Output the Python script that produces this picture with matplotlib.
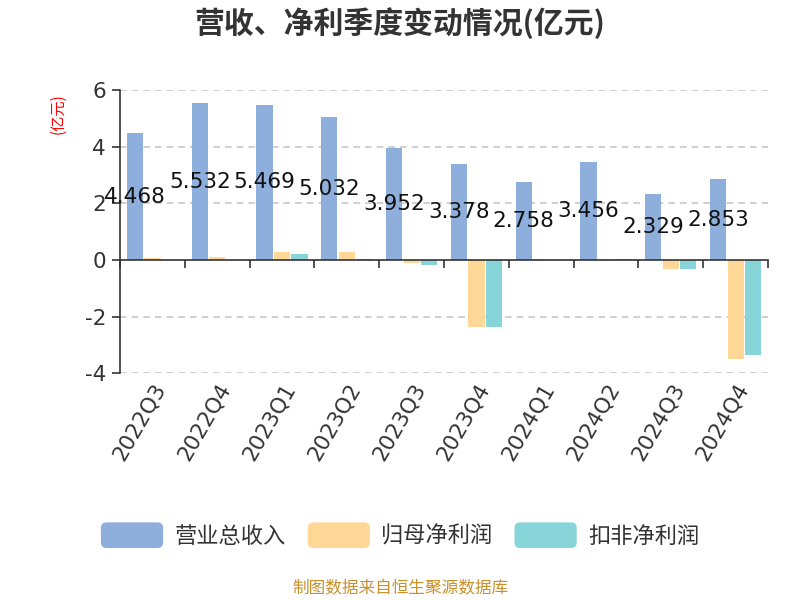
import matplotlib
matplotlib.use("Agg")
import matplotlib.pyplot as plt
from matplotlib.patches import FancyBboxPatch
from matplotlib.legend_handler import HandlerPatch
import numpy as np

plt.rcParams['font.family'] = ['Noto Sans CJK SC', 'DejaVu Sans']
plt.rcParams['axes.unicode_minus'] = False

categories = ["2022Q3", "2022Q4", "2023Q1", "2023Q2", "2023Q3", "2023Q4",
              "2024Q1", "2024Q2", "2024Q3", "2024Q4"]
revenue = [4.468, 5.532, 5.469, 5.032, 3.952, 3.378, 2.758, 3.456, 2.329, 2.853]
net_profit = [0.08, 0.12, 0.28, 0.27, -0.12, -2.36, 0.02, 0.03, -0.31, -3.49]
net_profit_deducted = [0.01, 0.005, 0.20, 0.05, -0.19, -2.36, -0.02, 0.05, -0.33, -3.37]
series_names = ["营业总收入", "归母净利润", "扣非净利润"]
colors = ["#8eaedb", "#ffd898", "#87d5d8"]

fig = plt.figure(figsize=(8, 6), dpi=100)
ax = fig.add_axes([0.15, 0.378, 0.81, 0.472])

x = np.arange(len(categories))
w = 0.25
gap = 0.02
bars = []
for i, (vals, c) in enumerate(zip([revenue, net_profit, net_profit_deducted], colors)):
    b = ax.bar(x + (i - 1) * (w + gap), vals, width=w, color=c, label=series_names[i], zorder=3)
    bars.append(b)

for xi, v in zip(x, revenue):
    ax.text(xi - (w + gap), v / 2, f"{v:.3f}", ha='center', va='center',
            fontsize=15.5, color='#111111', family=['DejaVu Sans'], zorder=5)

ax.set_xlim(-0.5, len(categories) - 0.5)
ax.set_ylim(-4, 6)
ax.set_yticks([-4, -2, 0, 2, 4, 6])
ax.set_yticklabels(["-4", "-2", "0", "2", "4", "6"])
ax.tick_params(axis='y', labelsize=15.5, colors='#333333', length=6, width=1.2, direction='out', pad=4)
for lbl in ax.get_yticklabels():
    lbl.set_family(['DejaVu Sans'])
for yv in [-4, -2, 2, 4, 6]:
    ax.axhline(yv, color='#c8c8c8', linestyle=(0, (4, 3)), linewidth=1.2, zorder=1)

for s in ['top', 'right']:
    ax.spines[s].set_visible(False)
ax.spines['left'].set_color('#333333')
ax.spines['left'].set_linewidth(1.2)
ax.spines['bottom'].set_position(('data', 0))
ax.spines['bottom'].set_color('#333333')
ax.spines['bottom'].set_linewidth(1.2)
ax.spines['bottom'].set_zorder(4)

ax.set_xticks(x)
ax.set_xticklabels(categories, rotation=60, ha='right', va='top', rotation_mode='anchor',
                   family=['DejaVu Sans'])
ax.tick_params(axis='x', which='major', length=0, pad=86, labelsize=15.5, colors='#333333')
ax.set_xticks(np.arange(len(categories) + 1) - 0.5, minor=True)
ax.tick_params(axis='x', which='minor', length=6, width=1.2, color='#333333', direction='out')

fig.text(0.072, 0.81, "(亿元)", rotation=90, color='red', fontsize=11, ha='center', va='center')
fig.text(0.5, 0.962, "营收、净利季度变动情况(亿元)", ha='center', va='center',
         fontsize=21.5, fontweight='bold', color='#333333')


class RoundHandler(HandlerPatch):
    def create_artists(self, legend, orig_handle, xdescent, ydescent, width, height, fontsize, trans):
        p = FancyBboxPatch((-xdescent, -ydescent), width, height,
                           boxstyle="round,pad=0,rounding_size=4",
                           facecolor=orig_handle[0].get_facecolor(), edgecolor='none',
                           transform=trans)
        return [p]


handles = bars
hm = {b: RoundHandler() for b in bars}
leg = fig.legend(handles, series_names, loc='center', bbox_to_anchor=(0.5, 0.108),
                 ncol=3, frameon=False, fontsize=16, handlelength=2.8, handleheight=1.4,
                 handletextpad=0.5, columnspacing=1.0, handler_map=hm, labelcolor='#333333')

fig.text(0.5, 0.018, "制图数据来自恒生聚源数据库", ha='center', va='center',
         fontsize=12, color='#c8902a')

fig.savefig("out.png", dpi=100)
